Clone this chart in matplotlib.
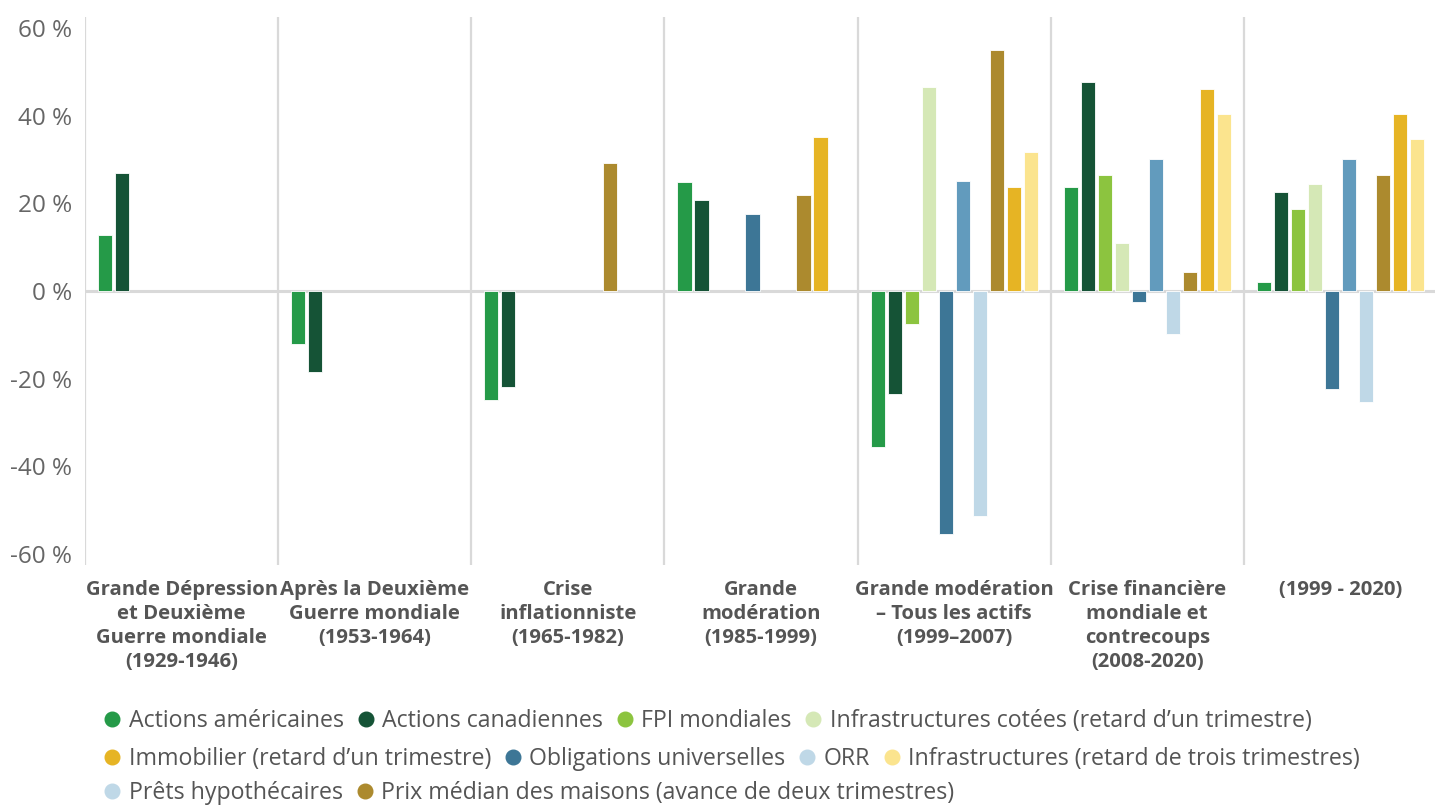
import numpy as np
import matplotlib
matplotlib.use("Agg")
import matplotlib.pyplot as plt
from matplotlib.lines import Line2D

plt.rcParams['font.family'] = ['Open Sans', 'DejaVu Sans']

categories = [
    "Grande Dépression\net Deuxième\nGuerre mondiale\n(1929-1946)",
    "Après la Deuxième\nGuerre mondiale\n(1953-1964)",
    "Crise\ninflationniste\n(1965-1982)",
    "Grande\nmodération\n(1985-1999)",
    "Grande modération\n– Tous les actifs\n(1999–2007)",
    "Crise financière\nmondiale et\ncontrecoups\n(2008-2020)",
    "(1999 - 2020)",
]
nan = np.nan
actions_americaines = [12.8, -12.2, -24.8, 24.8, -35.5, 23.8, 2.0]
actions_canadiennes = [27.0, -18.5, -22.0, 20.8, -23.5, 47.6, 22.5]
fpi_mondiales = [nan, nan, nan, nan, -7.5, 26.5, 18.7]
infra_cotees = [nan, nan, nan, nan, 46.5, 11.0, 24.3]
obligations = [nan, nan, nan, 17.5, -55.5, -2.5, -22.3]
orr = [nan, nan, nan, nan, 25.0, 30.0, 30.0]
prets_hypo = [nan, nan, nan, nan, -51.3, -9.8, -25.3]
prix_maisons = [nan, nan, 29.3, 22.0, 55.0, 4.3, 26.5]
immobilier = [nan, nan, nan, 35.2, 23.8, 46.0, 40.3]
infra_3t = [nan, nan, nan, nan, 31.8, 40.3, 34.7]

yticks = [-60, -40, -20, 0, 20, 40, 60]
ytick_labels = [f"{v} %" for v in yticks]

# bar order in each group
bar_series = [
    (actions_americaines, "#259a48"),
    (actions_canadiennes, "#155336"),
    (fpi_mondiales, "#8cc43f"),
    (infra_cotees, "#d5e8b6"),
    (obligations, "#3d7696"),
    (orr, "#629bbd"),
    (prets_hypo, "#bfd8e7"),
    (prix_maisons, "#ac8a2e"),
    (immobilier, "#e6b424"),
    (infra_3t, "#fbe48e"),
]

# legend order
legend_rows = [
    [("Actions américaines", "#259a48"), ("Actions canadiennes", "#155336"),
     ("FPI mondiales", "#8cc43f"), ("Infrastructures cotées (retard d’un trimestre)", "#d5e8b6")],
    [("Immobilier (retard d’un trimestre)", "#e6b424"), ("Obligations universelles", "#3d7696"),
     ("ORR", "#bfd8e7"), ("Infrastructures (retard de trois trimestres)", "#fbe48e")],
    [("Prêts hypothécaires", "#bfd8e7"), ("Prix médian des maisons (avance de deux trimestres)", "#ac8a2e")],
]

W, H = 1435, 806
fig = plt.figure(figsize=(W / 100, H / 100), dpi=100)
ax = fig.add_axes([85 / W, 1 - 565 / H, (1437 - 85) / W, (565 - 17) / H])

x = np.arange(len(categories))
slot = 0.088
bw = 0.073
n = len(bar_series)
for k, (vals, col) in enumerate(bar_series):
    ax.bar(x + (k - (n - 1) / 2) * slot, vals, width=bw, color=col,
           edgecolor="white", linewidth=0.6, zorder=3)

ax.set_xlim(-0.5, len(categories) - 0.5)
ax.set_ylim(-62.5, 62.5)
for b in np.arange(-0.5, len(categories), 1.0):
    ax.axvline(b, color="#d9d9d9", lw=1.6, zorder=1)
ax.axhline(0, color="#d9d9d9", lw=2.2, zorder=2)

for s in ax.spines.values():
    s.set_visible(False)

ax.set_yticks(yticks)
ax.set_yticklabels(ytick_labels, fontsize=17.5, color="#666666")
ax.tick_params(axis="y", length=0, pad=9)
ax.set_xticks(x)
ax.set_xticklabels(categories, fontsize=14.6, fontweight="bold", color="#555555",
                   linespacing=1.26, va="top")
ax.tick_params(axis="x", length=0, pad=11)

row_tops = [709, 747, 781]
for row, top in zip(legend_rows, row_tops):
    handles = [Line2D([], [], marker="o", linestyle="none", markersize=10.5,
                      markerfacecolor=c, markeredgecolor=c) for _, c in row]
    leg = fig.legend(handles, [t for t, _ in row], loc="upper left",
                     bbox_to_anchor=(103 / W, 1 - top / H), ncol=len(row), frameon=False,
                     fontsize=16.7, handlelength=0.8, handletextpad=0.3,
                     columnspacing=0.55, borderaxespad=0, borderpad=0)
    for t in leg.get_texts():
        t.set_color("#555555")

fig.savefig("out.png", dpi=100, facecolor="white")
